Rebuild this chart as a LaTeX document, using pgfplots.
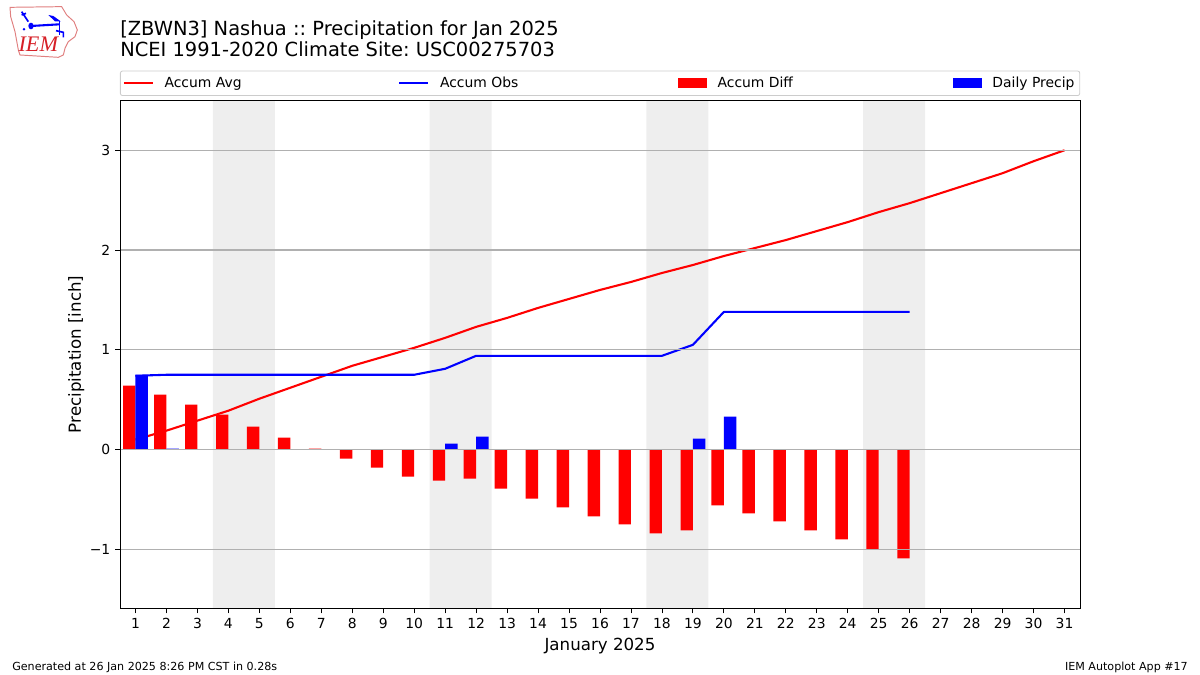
\documentclass[border=0pt]{standalone}
\usepackage{pgfplots}
\usepackage{fontspec}
\setmainfont{DejaVu Sans}
\newfontfamily\logofont{Liberation Serif}
\pgfplotsset{compat=1.18}
\definecolor{wkend}{HTML}{EEEEEE}
\definecolor{gridc}{HTML}{B0B0B0}
\definecolor{legc}{HTML}{CCCCCC}
\definecolor{logored}{HTML}{E08080}
\definecolor{iemred}{HTML}{D62027}
\begin{document}
\frenchspacing
\begin{tikzpicture}[x=1pt,y=1pt]
\useasboundingbox (0,0) rectangle (864,486);
\begin{axis}[
  at={(86.4pt,47.9pt)},anchor=south west,
  scale only axis,width=691.2pt,height=365.76pt,
  xmin=0.5,xmax=31.5,ymin=-1.592,ymax=3.499,
  axis on top,
  axis line style={line width=0.6pt,black},
  tick style={black,line width=0.6pt},
  tick align=outside,
  major tick length=3.5pt,
  xtick={1,2,3,4,5,6,7,8,9,10,11,12,13,14,15,16,17,18,19,20,21,22,23,24,25,26,27,28,29,30,31},
  xticklabels={1,2,3,4,5,6,7,8,9,10,11,12,13,14,15,16,17,18,19,20,21,22,23,24,25,26,27,28,29,30,31},
  ytick={-1,0,1,2,3},
  yticklabels={−1,0,1,2,3},
  xtick pos=bottom,ytick pos=left,
  ymajorgrids,
  grid style={gridc,line width=0.8pt},
  tick label style={font=\fontsize{10}{12}\selectfont},
  xlabel={January 2025},
  ylabel={Precipitation [inch]},
  label style={font=\fontsize{12}{14}\selectfont},
  every axis y label/.append style={yshift=-2.9pt},
  legend columns=4,
  legend style={
    at={(0,1.0088)},anchor=south west,
    draw=legc,rounded corners=1.5pt,line width=0.6pt,
    font=\fontsize{10}{12}\selectfont,
    inner xsep=1.8pt,inner ysep=2.3pt,
    /tikz/column 2/.style={column sep=110.9pt},
    /tikz/column 4/.style={column sep=113pt},
    /tikz/column 6/.style={column sep=113.1pt},
    cells={anchor=west},
  },
]
\addplot[fill=wkend,draw=none,forget plot] coordinates {(3.5,-1.592)(5.5,-1.592)(5.5,3.499)(3.5,3.499)} \closedcycle;
\addplot[fill=wkend,draw=none,forget plot] coordinates {(10.5,-1.592)(12.5,-1.592)(12.5,3.499)(10.5,3.499)} \closedcycle;
\addplot[fill=wkend,draw=none,forget plot] coordinates {(17.5,-1.592)(19.5,-1.592)(19.5,3.499)(17.5,3.499)} \closedcycle;
\addplot[fill=wkend,draw=none,forget plot] coordinates {(24.5,-1.592)(26.5,-1.592)(26.5,3.499)(24.5,3.499)} \closedcycle;

\addplot[red,line width=1.5pt,line join=round,
  legend image code/.code={\draw[red,line width=1.5pt,sharp corners] (0pt,0pt) -- (20.9pt,0pt);\path (26.5pt,0pt);}] coordinates {
(1,0.10)(2,0.19)(3,0.29)(4,0.39)(5,0.51)(6,0.62)(7,0.73)(8,0.84)(9,0.93)(10,1.02)
(11,1.12)(12,1.23)(13,1.32)(14,1.42)(15,1.51)(16,1.60)(17,1.68)(18,1.77)(19,1.85)(20,1.94)
(21,2.02)(22,2.10)(23,2.19)(24,2.28)(25,2.38)(26,2.47)(27,2.57)(28,2.67)(29,2.77)(30,2.89)(31,3.00)};
\addplot[blue,line width=1.5pt,line join=round,
  legend image code/.code={\draw[blue,line width=1.5pt,sharp corners] (0pt,0pt) -- (20.9pt,0pt);\path (26.5pt,0pt);}] coordinates {
(1,0.74)(2,0.75)(3,0.75)(4,0.75)(5,0.75)(6,0.75)(7,0.75)(8,0.75)(9,0.75)(10,0.75)
(11,0.81)(12,0.94)(13,0.94)(14,0.94)(15,0.94)(16,0.94)(17,0.94)(18,0.94)(19,1.05)(20,1.38)
(21,1.38)(22,1.38)(23,1.38)(24,1.38)(25,1.38)(26,1.38)};
\addplot[ybar,bar width=0.4,bar shift=-0.2,fill=red,draw=none,
  legend image code/.code={\fill[red,sharp corners] (0pt,-3.6pt) rectangle (20.9pt,3.6pt);\path (26.5pt,0pt);}] coordinates {
(1,0.64)(2,0.55)(3,0.45)(4,0.35)(5,0.23)(6,0.12)(7,0.01)(8,-0.09)(9,-0.18)(10,-0.27)
(11,-0.31)(12,-0.29)(13,-0.39)(14,-0.49)(15,-0.58)(16,-0.67)(17,-0.75)(18,-0.84)(19,-0.81)(20,-0.56)
(21,-0.64)(22,-0.72)(23,-0.81)(24,-0.90)(25,-1.00)(26,-1.09)};
\addplot[ybar,bar width=0.4,bar shift=0.2,fill=blue,draw=none,
  legend image code/.code={\fill[blue,sharp corners] (0pt,-3.6pt) rectangle (20.9pt,3.6pt);\path (26.5pt,0pt);}] coordinates {
(1,0.75)(2,0.01)(3,0)(4,0)(5,0)(6,0)(7,0)(8,0)(9,0)(10,0)
(11,0.06)(12,0.13)(13,0)(14,0)(15,0)(16,0)(17,0)(18,0)(19,0.11)(20,0.33)
(21,0)(22,0)(23,0)(24,0)(25,0)(26,0)};
\legend{Accum Avg,Accum Obs,Accum Diff,Daily Precip}
\end{axis}
% titles
\node[anchor=base west,inner sep=0pt,font=\fontsize{14}{16}\selectfont] at (86.4,460.5) {[ZBWN3] Nashua :: Precipitation for Jan 2025};
\node[anchor=base west,inner sep=0pt,font=\fontsize{14}{16}\selectfont] at (86.4,445.2) {NCEI 1991-2020 Climate Site: USC00275703};
% footer
\node[anchor=base west,inner sep=0pt,font=\fontsize{8}{10}\selectfont] at (8.64,3.4) {Generated at 26 Jan 2025 8:26 PM CST in 0.28s};
\node[anchor=base east,inner sep=0pt,font=\fontsize{8}{10}\selectfont] at (855.4,3.4) {IEM Autoplot App \#17};
% logo
\begin{scope}[shift={(0,486)},x=0.24pt,y=-0.24pt]
\draw[logored,line width=0.7pt,line join=round] (30,22) -- (185,20) -- (200,45) -- (222,65) -- (232,90) -- (225,110) -- (205,125) -- (195,145) -- (190,165) -- (175,172) -- (60,165) -- (55,150) -- (45,95) -- (32,50) -- cycle;
\draw[blue,line width=1.5pt] (93,78) -- (178,73);
\fill[blue] (93,78) ellipse (8 and 10);
\fill[blue] (145,45) -- (160,48) -- (182,64) -- (165,64) -- cycle;
\draw[blue,line width=1.2pt] (178,62) -- (178,105);
\draw[blue,line width=1.2pt] (168,92) -- (190,97) -- (190,112);
\draw[blue,line width=1.2pt] (65,35) -- (85,65) (65,45) -- (78,40);
\fill[blue] (72,88) circle (4);
\node[font=\logofont\itshape\fontsize{16}{16}\selectfont,text=iemred,inner sep=0pt] at (115,133) {IEM};
\end{scope}
\end{tikzpicture}
\end{document}
